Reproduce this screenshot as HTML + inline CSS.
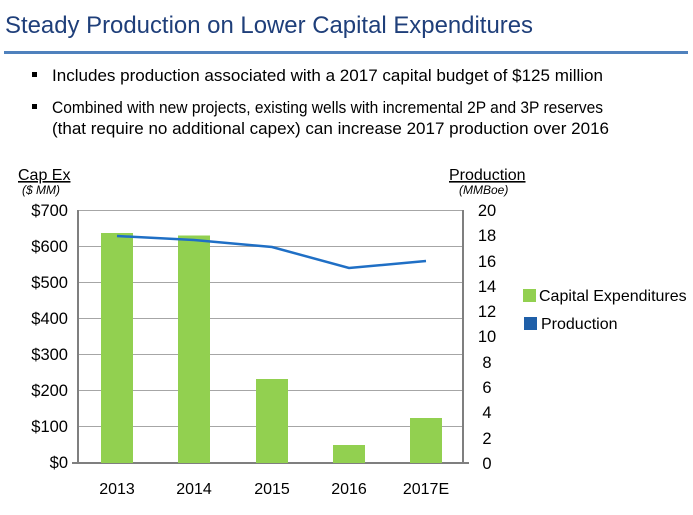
<!DOCTYPE html>
<html><head><style>
body{margin:0;width:693px;height:510px;background:#fff;overflow:hidden;font-family:"Liberation Sans",Arial,sans-serif;}
</style></head><body>
<svg width="693" height="510" xmlns="http://www.w3.org/2000/svg" font-family="Liberation Sans, Arial, sans-serif">
<text x="5" y="33" font-size="24" fill="#1f3f7a" textLength="528" lengthAdjust="spacingAndGlyphs">Steady Production on Lower Capital Expenditures</text>
<rect x="4" y="51" width="684" height="3" fill="#4f81bd"/>
<rect x="32" y="72" width="5" height="5" fill="#000"/>
<text x="52" y="81" font-size="17" fill="#000" textLength="551" lengthAdjust="spacingAndGlyphs">Includes production associated with a 2017 capital budget of $125 million</text>
<rect x="32" y="104" width="5" height="5" fill="#000"/>
<text x="52" y="113" font-size="17" fill="#000" textLength="551" lengthAdjust="spacingAndGlyphs">Combined with new projects, existing wells with incremental 2P and 3P reserves</text>
<text x="52" y="134" font-size="17" fill="#000" textLength="557" lengthAdjust="spacingAndGlyphs">(that require no additional capex) can increase 2017 production over 2016</text>
<text x="18" y="180" font-size="16" text-decoration="underline">Cap Ex</text>
<text x="22" y="194" font-size="12" font-style="italic">($ MM)</text>
<text x="449" y="180" font-size="16" text-decoration="underline">Production</text>
<text x="459" y="194" font-size="12" font-style="italic">(MMBoe)</text>
<g stroke="#a6a6a6" stroke-width="1">
<line x1="78" y1="210.5" x2="463" y2="210.5"/><line x1="78" y1="246.5" x2="463" y2="246.5"/><line x1="78" y1="282.5" x2="463" y2="282.5"/><line x1="78" y1="318.5" x2="463" y2="318.5"/><line x1="78" y1="354.5" x2="463" y2="354.5"/><line x1="78" y1="390.5" x2="463" y2="390.5"/><line x1="78" y1="426.5" x2="463" y2="426.5"/>
</g>
<line x1="78" y1="210" x2="78" y2="463" stroke="#7f7f7f" stroke-width="2"/>
<line x1="463" y1="210" x2="463" y2="463" stroke="#7f7f7f" stroke-width="2"/>
<line x1="72" y1="463" x2="469" y2="463" stroke="#7f7f7f" stroke-width="2"/>
<g fill="#92d050">
<rect x="101" y="233" width="32" height="230"/><rect x="178" y="235.5" width="32" height="227.5"/><rect x="256" y="379" width="32" height="84"/><rect x="333" y="445" width="32" height="18"/><rect x="410" y="418" width="32" height="45"/>
</g>
<polyline points="117,236 194,240 272,247 349,268 426,261" fill="none" stroke="#1f6fc5" stroke-width="2.5"/>
<g font-size="16.5" text-anchor="end">
<text x="68" y="216">$700</text><text x="68" y="252">$600</text><text x="68" y="288">$500</text><text x="68" y="324">$400</text><text x="68" y="360">$300</text><text x="68" y="396">$200</text><text x="68" y="432">$100</text><text x="68" y="468">$0</text>
</g>
<g font-size="16.5" text-anchor="middle">
<text x="487" y="216">20</text><text x="487" y="241">18</text><text x="487" y="267">16</text><text x="487" y="292">14</text><text x="487" y="317">12</text><text x="487" y="342">10</text><text x="487" y="368">8</text><text x="487" y="393">6</text><text x="487" y="418">4</text><text x="487" y="444">2</text><text x="487" y="469">0</text>
</g>
<g font-size="16" text-anchor="middle">
<text x="117" y="494">2013</text><text x="194" y="494">2014</text><text x="272" y="494">2015</text><text x="349" y="494">2016</text><text x="426" y="494">2017E</text>
</g>
<rect x="523" y="289" width="13" height="13" fill="#92d050"/>
<text x="539" y="301" font-size="16">Capital Expenditures</text>
<rect x="524" y="317" width="13" height="13" fill="#1f5fa8"/>
<text x="541" y="329" font-size="16">Production</text>
</svg>
</body></html>
